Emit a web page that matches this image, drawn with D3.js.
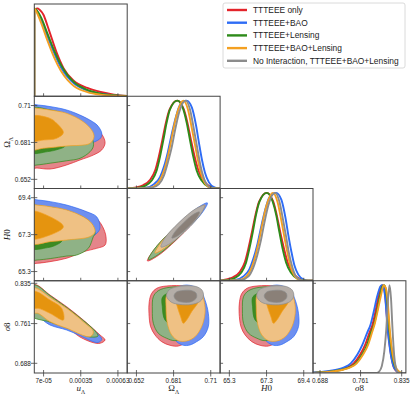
<!DOCTYPE html>
<html><head><meta charset="utf-8">
<script src="https://cdn.jsdelivr.net/npm/d3@7"></script>
<style>body{margin:0;background:#fff}svg{display:block}</style>
</head><body>
<svg id="c" width="415" height="397"></svg>
<script>
// ---------------- data ----------------
const seriesNames = ["TTTEEE only","TTTEEE+BAO","TTTEEE+Lensing","TTTEEE+BAO+Lensing","No Interaction, TTTEEE+BAO+Lensing"];
const lineColors = ["#e3242b","#2e6cf5","#2e8b1a","#f4a021","#8c8c8c"];
const outerFill  = ["#e5858a","#6d8ff0","#8fb286","#efc184","#b5aea8"];
const innerFill  = ["#d93a40","#3b6be8","#3d8a23","#e5940f","#8a8078"];

// column (x) limits and row (y) limits per parameter
const colDomains = [[0,0.0007],[0.6448,0.7173],[64.79,69.91],[0.6754,0.8426]];
const rowDomains = [[0,0.0007],[0.6448,0.7173],[64.79,69.91],[0.6702,0.8397]];
const tickValues = [[7e-5,3.5e-4,6.3e-4],[0.652,0.681,0.710],[65.3,67.35,69.4],[0.688,0.761,0.835]];
const tickLabels = [["7e-05","0.00035","0.00063"],["0.652","0.681","0.71"],["65.3","67.3","69.4"],["0.688","0.761","0.835"]];

// 1D marginals [value, density]
const margU = [
 [[0,0],[1e-7,0.96],[1e-5,0.99],[2.3e-5,1.0],[4e-5,0.985],[6.8e-5,0.93],[1e-4,0.8],[1.2e-4,0.71],[1.7e-4,0.49],[2.2e-4,0.32],[2.95e-4,0.18],[4e-4,0.095],[5e-4,0.048],[6e-4,0.019],[7e-4,0.004]],
 [[0,0],[1e-7,1],[2e-5,0.97],[5e-5,0.88],[1e-4,0.68],[1.5e-4,0.49],[2e-4,0.33],[2.5e-4,0.22],[3e-4,0.145],[4e-4,0.065],[5e-4,0.028],[6e-4,0.01],[7e-4,0.002]],
 [[0,0],[1e-7,1],[2e-5,0.975],[5e-5,0.9],[1e-4,0.71],[1.5e-4,0.52],[2e-4,0.36],[2.5e-4,0.24],[3e-4,0.16],[4e-4,0.072],[5e-4,0.03],[6e-4,0.011],[7e-4,0.002]],
 [[0,0],[1e-7,1],[2e-5,0.95],[5e-5,0.84],[1e-4,0.63],[1.5e-4,0.44],[2e-4,0.29],[2.5e-4,0.185],[3e-4,0.115],[4e-4,0.047],[5e-4,0.018],[6e-4,0.006],[7e-4,0.001]],
 null
];
const margOm = [
 [[0.6448,0],[0.6505,0.01],[0.6575,0.04],[0.6627,0.10],[0.6667,0.21],[0.6694,0.36],[0.6722,0.55],[0.6750,0.75],[0.6779,0.90],[0.6839,1.0],[0.6890,0.90],[0.6918,0.75],[0.6946,0.55],[0.6975,0.36],[0.7004,0.205],[0.7045,0.09],[0.7097,0.02],[0.7160,0],[0.7173,0]],
 [[0.6448,0],[0.6595,0.01],[0.6657,0.05],[0.6704,0.13],[0.6735,0.25],[0.6766,0.42],[0.6797,0.63],[0.6829,0.82],[0.6860,0.95],[0.6912,1.0],[0.6953,0.92],[0.6985,0.72],[0.7008,0.52],[0.7031,0.33],[0.7055,0.18],[0.7086,0.07],[0.7125,0.015],[0.7164,0],[0.7173,0]],
 [[0.6448,0],[0.6522,0.005],[0.6587,0.03],[0.6639,0.09],[0.6678,0.205],[0.6704,0.36],[0.6730,0.55],[0.6756,0.75],[0.6782,0.90],[0.6839,1.0],[0.6886,0.90],[0.6912,0.75],[0.6938,0.55],[0.6964,0.36],[0.6990,0.205],[0.7029,0.09],[0.7081,0.02],[0.7146,0],[0.7173,0]],
 [[0.6448,0],[0.6626,0.01],[0.6680,0.05],[0.6719,0.14],[0.6751,0.28],[0.6778,0.45],[0.6805,0.65],[0.6836,0.85],[0.6886,1.0],[0.6922,0.9],[0.6953,0.68],[0.6977,0.5],[0.7000,0.32],[0.7024,0.17],[0.7055,0.06],[0.7094,0.01],[0.7125,0],[0.7173,0]],
 [[0.6448,0],[0.6641,0.01],[0.6696,0.05],[0.6735,0.15],[0.6766,0.3],[0.6794,0.46],[0.6821,0.66],[0.6852,0.86],[0.6904,1.0],[0.6938,0.9],[0.6969,0.67],[0.6990,0.5],[0.7012,0.32],[0.7035,0.17],[0.7063,0.06],[0.7102,0.01],[0.7133,0],[0.7173,0]]
];
const margH0 = [
 [[64.79,0],[65.0,0.01],[65.50,0.04],[65.87,0.10],[66.15,0.21],[66.34,0.36],[66.54,0.55],[66.74,0.75],[66.94,0.90],[67.36,1.0],[67.72,0.90],[67.91,0.75],[68.11,0.55],[68.32,0.36],[68.52,0.205],[68.81,0.09],[69.18,0.02],[69.62,0],[69.91,0]],
 [[64.79,0],[65.63,0.01],[66.07,0.05],[66.40,0.13],[66.62,0.25],[66.85,0.42],[67.07,0.63],[67.29,0.82],[67.51,0.95],[67.88,1.0],[68.17,0.92],[68.39,0.72],[68.55,0.52],[68.72,0.33],[68.88,0.18],[69.10,0.07],[69.38,0.015],[69.66,0],[69.91,0]],
 [[64.79,0],[65.12,0.005],[65.58,0.03],[65.95,0.09],[66.22,0.205],[66.40,0.36],[66.59,0.55],[66.77,0.75],[66.96,0.90],[67.36,1.0],[67.69,0.90],[67.88,0.75],[68.06,0.55],[68.24,0.36],[68.43,0.205],[68.70,0.09],[69.07,0.02],[69.53,0],[69.91,0]],
 [[64.79,0],[65.85,0.01],[66.24,0.05],[66.51,0.14],[66.73,0.28],[66.93,0.45],[67.12,0.65],[67.34,0.85],[67.69,1.0],[67.95,0.9],[68.17,0.68],[68.33,0.5],[68.50,0.32],[68.66,0.17],[68.88,0.06],[69.16,0.01],[69.38,0],[69.91,0]],
 [[64.79,0],[65.96,0.01],[66.35,0.05],[66.62,0.15],[66.85,0.3],[67.04,0.46],[67.23,0.66],[67.45,0.86],[67.82,1.0],[68.06,0.9],[68.28,0.67],[68.43,0.5],[68.58,0.32],[68.75,0.17],[68.94,0.06],[69.22,0.01],[69.44,0],[69.91,0]]
];
const margS8 = [
 [[0.6754,0],[0.7079,0.02],[0.7257,0.04],[0.7371,0.065],[0.7487,0.11],[0.7603,0.21],[0.7692,0.32],[0.7771,0.46],[0.7825,0.55],[0.7878,0.70],[0.7931,0.87],[0.7976,0.985],[0.8011,1.0],[0.8055,0.87],[0.8100,0.5],[0.8150,0.24],[0.8206,0.07],[0.8268,0.015],[0.8322,0],[0.8426,0]],
 [[0.6754,0.005],[0.7020,0.02],[0.7198,0.04],[0.7315,0.065],[0.7434,0.11],[0.7553,0.21],[0.7642,0.32],[0.7730,0.46],[0.7789,0.55],[0.7848,0.70],[0.7908,0.87],[0.7967,0.985],[0.7993,1.0],[0.8020,0.98],[0.8055,0.85],[0.8096,0.51],[0.8144,0.25],[0.8203,0.076],[0.8264,0.02],[0.8322,0],[0.8426,0]],
 [[0.6754,0],[0.7115,0.02],[0.7292,0.04],[0.7407,0.065],[0.7523,0.11],[0.7638,0.21],[0.7727,0.32],[0.7798,0.46],[0.7851,0.55],[0.7905,0.70],[0.7958,0.87],[0.8002,0.985],[0.8038,1.0],[0.8082,0.87],[0.8126,0.5],[0.8174,0.24],[0.8233,0.07],[0.8295,0.015],[0.8348,0],[0.8426,0]],
 [[0.6754,0],[0.7132,0.02],[0.7310,0.04],[0.7425,0.065],[0.7541,0.11],[0.7656,0.21],[0.7745,0.32],[0.7816,0.46],[0.7869,0.57],[0.7922,0.72],[0.7976,0.88],[0.8025,1.0],[0.8064,0.97],[0.8100,0.8],[0.8135,0.5],[0.8180,0.24],[0.8242,0.07],[0.8304,0.015],[0.8357,0],[0.8426,0]],
 [[0.6754,0],[0.7748,0],[0.7896,0],[0.7949,0.02],[0.7993,0.08],[0.8038,0.25],[0.8073,0.5],[0.8105,0.85],[0.8131,1.0],[0.8158,0.85],[0.8185,0.5],[0.8215,0.2],[0.8245,0.06],[0.8277,0.01],[0.8322,0],[0.8426,0]]
];

// 2D contours: [x, y] per panel, outer (95%) and inner (68%) per series (null = not drawn / hidden)
const OmU_outer = [
 [[-3e-5,0.6609],[2e-5,0.6609],[1.18e-4,0.6601],[2.44e-4,0.6633],[3.44e-4,0.6672],[4.45e-4,0.6711],[5.08e-4,0.6751],[5.33e-4,0.6803],[5.2e-4,0.6855],[4.8e-4,0.6908],[4.2e-4,0.6978],[3.07e-4,0.7034],[1.56e-4,0.7073],[4.3e-5,0.7089],[-3e-5,0.7089]],
 [[-3e-5,0.7104],[3e-5,0.7104],[1.18e-4,0.7092],[2.44e-4,0.7065],[3.69e-4,0.7013],[4.58e-4,0.6960],[4.83e-4,0.6935],[5.08e-4,0.6884],[5.0e-4,0.6845],[4.5e-4,0.6813],[3.5e-4,0.6782],[2.3e-4,0.6735],[1.2e-4,0.6719],[-3e-5,0.6710]],
 [[-3e-5,0.6633],[2e-5,0.6633],[1.2e-4,0.6647],[2.44e-4,0.6666],[3.44e-4,0.6685],[4.2e-4,0.6737],[4.45e-4,0.6780],[4.4e-4,0.6830],[4.0e-4,0.6900],[2.7e-4,0.7018],[1.2e-4,0.7065],[-3e-5,0.7073]],
 [[-3e-5,0.7078],[2e-5,0.7078],[1.18e-4,0.7065],[2.44e-4,0.7039],[3.69e-4,0.6973],[4.32e-4,0.6908],[4.5e-4,0.6855],[4.2e-4,0.6803],[2.44e-4,0.6782],[6.8e-5,0.6764],[-3e-5,0.6756]],
 null
];
const OmU_inner = [null, null,
 [[-3e-5,0.6733],[1.0e-4,0.6738],[1.8e-4,0.6756],[2.35e-4,0.6785],[2.2e-4,0.6880],[1.3e-4,0.6950],[-3e-5,0.6990]],
 [[-3e-5,0.7012],[1.18e-4,0.6999],[1.69e-4,0.6960],[2.19e-4,0.6887],[1.69e-4,0.6843],[6.8e-5,0.6829],[-3e-5,0.6824]],
 null
];
const H0U_outer = [
 [[-3e-5,65.76],[2e-5,65.76],[1.18e-4,65.85],[2.44e-4,66.04],[3.69e-4,66.40],[4.7e-4,66.59],[5.33e-4,66.77],[5.4e-4,67.24],[5.15e-4,67.79],[4.8e-4,68.16],[4.2e-4,68.50],[2.69e-4,68.88],[4.3e-5,69.16],[-3e-5,69.16]],
 [[-3e-5,69.27],[3e-5,69.27],[1.2e-4,69.18],[2.44e-4,68.99],[3.95e-4,68.62],[4.7e-4,68.34],[4.95e-4,67.79],[4.82e-4,67.51],[3.82e-4,67.05],[1.94e-4,66.83],[-3e-5,66.72]],
 [[-3e-5,65.94],[2e-5,65.94],[1.2e-4,66.02],[2.44e-4,66.16],[3.2e-4,66.22],[4.07e-4,66.59],[4.45e-4,67.24],[4.58e-4,67.42],[4.2e-4,68.05],[2.69e-4,68.61],[4.3e-5,68.94],[-3e-5,68.94]],
 [[-3e-5,68.99],[2e-5,68.99],[1.2e-4,68.90],[2.44e-4,68.72],[3.69e-4,68.34],[4.32e-4,67.98],[4.58e-4,67.51],[4.2e-4,67.24],[2.44e-4,67.05],[1.2e-4,66.96],[-3e-5,66.87]],
 null
];
const H0U_inner = [null, null,
 [[-3e-5,66.60],[1.0e-4,66.63],[1.6e-4,66.76],[2.1e-4,67.02],[2.0e-4,67.5],[1.2e-4,67.9],[-3e-5,68.1]],
 [[-3e-5,68.62],[1.18e-4,68.34],[2.19e-4,67.79],[1.18e-4,67.33],[-3e-5,67.15]],
 null
];
const S8U_outer = [
 [[-3e-5,0.8319],[1.8e-5,0.8319],[1.18e-4,0.8135],[2.44e-4,0.7920],[3.69e-4,0.7676],[4.95e-4,0.7401],[5.33e-4,0.7309],[4.95e-4,0.7248],[4.45e-4,0.7259],[3.44e-4,0.7364],[2.44e-4,0.7546],[1.18e-4,0.7676],[-3e-5,0.7790]],
 [[-3e-5,0.8288],[1.8e-5,0.8288],[1.18e-4,0.8110],[2.44e-4,0.7897],[3.69e-4,0.7648],[4.7e-4,0.7440],[5.08e-4,0.7320],[4.8e-4,0.7262],[4.2e-4,0.7300],[3.44e-4,0.7390],[2.44e-4,0.7492],[1.18e-4,0.7584],[2.6e-5,0.7737],[-3e-5,0.7760]],
 [[-3e-5,0.8310],[1.8e-5,0.8310],[1.18e-4,0.8125],[2.44e-4,0.7906],[3.69e-4,0.7667],[4.58e-4,0.7474],[4.8e-4,0.7382],[4.2e-4,0.7364],[2.69e-4,0.7511],[1.18e-4,0.7639],[-3e-5,0.7768]],
 [[-3e-5,0.8258],[1.8e-5,0.8258],[1.18e-4,0.8095],[2.44e-4,0.7891],[3.69e-4,0.7645],[4.45e-4,0.7461],[4.2e-4,0.7369],[2.44e-4,0.7524],[1.18e-4,0.7645],[2.6e-5,0.7799],[-3e-5,0.7799]],
 null
];
const S8U_inner = [null, null, null,
 [[-3e-5,0.8196],[1.8e-5,0.8196],[1.18e-4,0.8043],[2.06e-4,0.7891],[2.19e-4,0.7676],[1.18e-4,0.7799],[3e-5,0.7891],[-3e-5,0.7891]],
 null
];
const H0Om_outer = [
 [[0.7047,68.94],[0.7002,68.35],[0.6854,67.21],[0.6690,66.19],[0.6606,65.89],[0.6652,66.47],[0.6799,67.61],[0.6963,68.63]],
 [[0.7074,69.11],[0.7034,68.57],[0.6899,67.55],[0.6750,66.65],[0.6673,66.39],[0.6713,66.92],[0.6848,67.94],[0.6997,68.84]],
 [[0.7024,68.77],[0.6982,68.23],[0.6844,67.18],[0.6692,66.25],[0.6614,65.97],[0.6656,66.51],[0.6793,67.56],[0.6946,68.49]],
 [[0.7055,68.99],[0.7015,68.48],[0.6884,67.48],[0.6739,66.59],[0.6665,66.33],[0.6705,66.85],[0.6836,67.84],[0.6981,68.73]],
 [[0.7051,68.97],[0.7021,68.48],[0.6910,67.60],[0.6782,66.85],[0.6712,66.66],[0.6741,67.15],[0.6853,68.03],[0.6981,68.78]]
];
const H0Om_inner = [null, null,
 [[0.6930,68.11],[0.6904,67.76],[0.6818,67.12],[0.6722,66.55],[0.6673,66.39],[0.6698,66.73],[0.6784,67.38],[0.6880,67.95]],
 null,
 [[0.7012,68.61],[0.6993,68.30],[0.6922,67.75],[0.6841,67.28],[0.6797,67.16],[0.6817,67.47],[0.6888,68.01],[0.6968,68.49]]
];
const S8Om_outer = [
 [[0.6678,0.8258],[0.6756,0.8301],[0.6912,0.8288],[0.7003,0.8166],[0.7029,0.7860],[0.7003,0.7553],[0.6912,0.7278],[0.6847,0.7198],[0.6782,0.7211],[0.6717,0.7278],[0.6665,0.7401],[0.6631,0.7553],[0.6618,0.7799],[0.6620,0.8012],[0.6639,0.8166]],
 [[0.7055,0.8043],[0.7081,0.7799],[0.7081,0.7553],[0.7042,0.7369],[0.6990,0.7278],[0.6938,0.7217],[0.6886,0.7211],[0.6834,0.7278],[0.6808,0.7369],[0.6782,0.7676],[0.6782,0.7983],[0.6808,0.8227],[0.6912,0.8319],[0.7016,0.8227]],
 [[0.6652,0.8104],[0.6644,0.7860],[0.6652,0.7615],[0.6691,0.7432],[0.6756,0.7340],[0.6821,0.7296],[0.6912,0.7369],[0.6977,0.7676],[0.6990,0.8043],[0.6912,0.8258],[0.6782,0.8277],[0.6691,0.8214]],
 [[0.6756,0.8135],[0.6751,0.7920],[0.6761,0.7615],[0.6795,0.7401],[0.6847,0.7296],[0.6912,0.7290],[0.6977,0.7369],[0.7029,0.7553],[0.7055,0.7799],[0.7049,0.8012],[0.7016,0.8227],[0.6912,0.8301],[0.6808,0.8258]],
 [[0.6755,0.8117],[0.6774,0.8227],[0.6829,0.8282],[0.6907,0.8304],[0.6985,0.8291],[0.7031,0.8227],[0.7043,0.8117],[0.7016,0.8016],[0.6946,0.7961],[0.6860,0.7961],[0.6790,0.8007]]
];
const S8Om_inner = [null, null,
 [[0.6725,0.8104],[0.6722,0.7920],[0.6743,0.7676],[0.6808,0.7584],[0.6912,0.7676],[0.6951,0.7983],[0.6912,0.8166],[0.6808,0.8196]],
 [[0.6821,0.8104],[0.6839,0.7920],[0.6865,0.7737],[0.6886,0.7615],[0.6912,0.7676],[0.6951,0.7829],[0.7003,0.8012],[0.7003,0.8166],[0.6912,0.8227],[0.6834,0.8196]],
 [[0.6813,0.8117],[0.6833,0.8190],[0.6883,0.8218],[0.6946,0.8218],[0.6985,0.8172],[0.6989,0.8089],[0.6953,0.8016],[0.6891,0.8001],[0.6836,0.8034]]
];
const S8H0_outer = [
 [[66.27,0.8258],[66.82,0.8301],[67.92,0.8288],[68.56,0.8166],[68.75,0.7860],[68.56,0.7553],[67.92,0.7278],[67.46,0.7198],[66.99,0.7211],[66.54,0.7278],[66.17,0.7401],[65.94,0.7553],[65.84,0.7799],[65.86,0.8012],[65.99,0.8166]],
 [[68.93,0.8043],[69.11,0.7799],[69.11,0.7553],[68.84,0.7369],[68.47,0.7278],[68.10,0.7217],[67.73,0.7211],[67.37,0.7278],[67.18,0.7369],[66.99,0.7676],[66.99,0.7983],[67.18,0.8227],[67.92,0.8319],[68.65,0.8227]],
 [[66.08,0.8104],[66.02,0.7860],[66.08,0.7615],[66.36,0.7432],[66.82,0.7340],[67.27,0.7296],[67.92,0.7369],[68.38,0.7676],[68.47,0.8043],[67.92,0.8258],[66.99,0.8277],[66.36,0.8214]],
 [[66.82,0.8135],[66.78,0.7920],[66.85,0.7615],[67.09,0.7401],[67.46,0.7296],[67.92,0.7290],[68.38,0.7369],[68.75,0.7553],[68.93,0.7799],[68.89,0.8012],[68.65,0.8227],[67.92,0.8301],[67.18,0.8258]],
 [[66.81,0.8117],[66.94,0.8227],[67.33,0.8282],[67.88,0.8304],[68.43,0.8291],[68.76,0.8227],[68.85,0.8117],[68.65,0.8016],[68.16,0.7961],[67.55,0.7961],[67.05,0.8007]]
];
const S8H0_inner = [null, null,
 [[66.60,0.8104],[66.58,0.7920],[66.72,0.7676],[67.18,0.7584],[67.92,0.7676],[68.20,0.7983],[67.92,0.8166],[67.18,0.8196]],
 [[67.27,0.8104],[67.40,0.7920],[67.59,0.7737],[67.73,0.7615],[67.92,0.7676],[68.20,0.7829],[68.56,0.8012],[68.56,0.8166],[67.92,0.8227],[67.37,0.8196]],
 [[67.22,0.8117],[67.36,0.8190],[67.72,0.8218],[68.16,0.8218],[68.43,0.8172],[68.46,0.8089],[68.21,0.8016],[67.77,0.8001],[67.39,0.8034]]
];

// ---------------- layout ----------------
const X0 = 34.3, CW = 92.9, Y0 = 4, CH = 92.25;
const xs = colDomains.map((d,i)=>d3.scaleLinear().domain(d).range([X0+i*CW, X0+(i+1)*CW]));
const ys = rowDomains.map((d,i)=>d3.scaleLinear().domain(d).range([Y0+(i+1)*CH, Y0+i*CH]));
const dens = colDomains.map((d,i)=>d3.scaleLinear().domain([0,1.05]).range([Y0+(i+1)*CH, Y0+i*CH]));

const svg = d3.select("#c");
const defs = svg.append("defs");
function clipFor(r,c){
  const id = `clip${r}${c}`;
  defs.append("clipPath").attr("id",id).append("rect")
    .attr("x",X0+c*CW).attr("y",Y0+r*CH).attr("width",CW).attr("height",CH);
  return `url(#${id})`;
}

// 1D panels
const margs = [margU, margOm, margH0, margS8];
margs.forEach((m,i)=>{
  const g = svg.append("g").attr("clip-path",clipFor(i,i));
  const line = d3.line().x(d=>xs[i](d[0])).y(d=>dens[i](d[1])).curve(d3.curveMonotoneX);
  m.forEach((s,k)=>{
    if(!s) return;
    g.append("path").attr("d",line(s)).attr("fill","none")
     .attr("stroke",lineColors[k]).attr("stroke-width",1.9).attr("stroke-linejoin","round");
  });
});

// 2D panels
const panels2d = [
  {r:1,c:0,outer:OmU_outer,inner:OmU_inner},
  {r:2,c:0,outer:H0U_outer,inner:H0U_inner},
  {r:3,c:0,outer:S8U_outer,inner:S8U_inner},
  {r:2,c:1,outer:H0Om_outer,inner:H0Om_inner},
  {r:3,c:1,outer:S8Om_outer,inner:S8Om_inner},
  {r:3,c:2,outer:S8H0_outer,inner:S8H0_inner}
];
panels2d.forEach(p=>{
  const g = svg.append("g").attr("clip-path",clipFor(p.r,p.c));
  const area = d3.line().x(d=>xs[p.c](d[0])).y(d=>ys[p.r](d[1])).curve(d3.curveCatmullRomClosed.alpha(0.5));
  for(let k=0;k<5;k++){
    if(p.outer[k]) g.append("path").attr("d",area(p.outer[k])).attr("fill",outerFill[k])
        .attr("stroke",lineColors[k]).attr("stroke-width",0.7);
    if(p.inner[k]) g.append("path").attr("d",area(p.inner[k])).attr("fill",innerFill[k])
        .attr("stroke",lineColors[k]).attr("stroke-width",0.7);
  }
});

// frames & ticks
const frame = svg.append("g");
for(let r=0;r<4;r++){
  for(let c=0;c<=r;c++){
    const x = X0+c*CW, y = Y0+r*CH;
    frame.append("rect").attr("x",x).attr("y",y).attr("width",CW).attr("height",CH)
      .attr("fill","none").attr("stroke","#444").attr("stroke-width",1);
    tickValues[c].forEach(v=>{
      const tx = xs[c](v);
      frame.append("line").attr("x1",tx).attr("x2",tx).attr("y1",y+CH-3).attr("y2",y+CH+(r===3?3.5:0))
        .attr("stroke","#444").attr("stroke-width",0.8);
    });
    if(r>0){
      tickValues[r].forEach(v=>{
        const ty = ys[r](v);
        frame.append("line").attr("x1",x-(c===0?3.5:0)).attr("x2",x+3).attr("y1",ty).attr("y2",ty)
          .attr("stroke","#444").attr("stroke-width",0.8);
      });
    }
  }
}

// tick labels
const tickFont = "Liberation Sans, Arial, sans-serif";
for(let c=0;c<4;c++){
  tickValues[c].forEach((v,j)=>{
    svg.append("text").attr("x",xs[c](v)).attr("y",Y0+4*CH+9.5).attr("text-anchor","middle")
      .attr("font-family",tickFont).attr("font-size",6.4).attr("fill","#222").text(tickLabels[c][j]);
  });
}
for(let r=1;r<4;r++){
  tickValues[r].forEach((v,j)=>{
    svg.append("text").attr("x",X0-3.5).attr("y",ys[r](v)).attr("dy","0.35em").attr("text-anchor","end")
      .attr("font-family",tickFont).attr("font-size",6.4).attr("fill","#222").text(tickLabels[r][j]);
  });
}

// axis labels
const labFont = "Liberation Serif, DejaVu Serif, serif";
function label(sel, parts){
  parts.forEach(p=>{
    const t = sel.append("tspan").text(p.t);
    if(p.it) t.attr("font-style","italic");
    if(p.sub) t.attr("baseline-shift","sub").attr("font-size",5.8);
  });
}
const xLabelParts = [
  [{t:"u",it:true},{t:"Λ",sub:true}],
  [{t:"Ω"},{t:"Λ",sub:true}],
  [{t:"H",it:true},{t:"0"}],
  [{t:"σ",it:true},{t:"8"}]
];
for(let c=0;c<4;c++){
  const t = svg.append("text").attr("x",X0+(c+0.5)*CW).attr("y",391).attr("text-anchor","middle")
    .attr("font-family",labFont).attr("font-size",9).attr("fill","#222");
  label(t,xLabelParts[c]);
}
for(let r=1;r<4;r++){
  const cy = Y0+(r+0.5)*CH;
  const t = svg.append("text").attr("transform",`translate(10,${cy}) rotate(-90)`).attr("text-anchor","middle")
    .attr("font-family",labFont).attr("font-size",9).attr("fill","#222");
  label(t,xLabelParts[r]);
}

// legend
const lg = svg.append("g");
lg.append("rect").attr("x",223).attr("y",3).attr("width",182).attr("height",65).attr("rx",2)
  .attr("fill","#fff").attr("stroke","#d0d0d0").attr("stroke-width",0.8);
seriesNames.forEach((n,k)=>{
  const y = 10 + k*12.7;
  lg.append("line").attr("x1",227).attr("x2",247).attr("y1",y).attr("y2",y)
    .attr("stroke",lineColors[k]).attr("stroke-width",2.4);
  lg.append("text").attr("x",253).attr("y",y).attr("dy","0.35em")
    .attr("font-family","Liberation Sans, Arial, sans-serif").attr("font-size",8.4).attr("fill","#222").text(n);
});
</script>
</body></html>
